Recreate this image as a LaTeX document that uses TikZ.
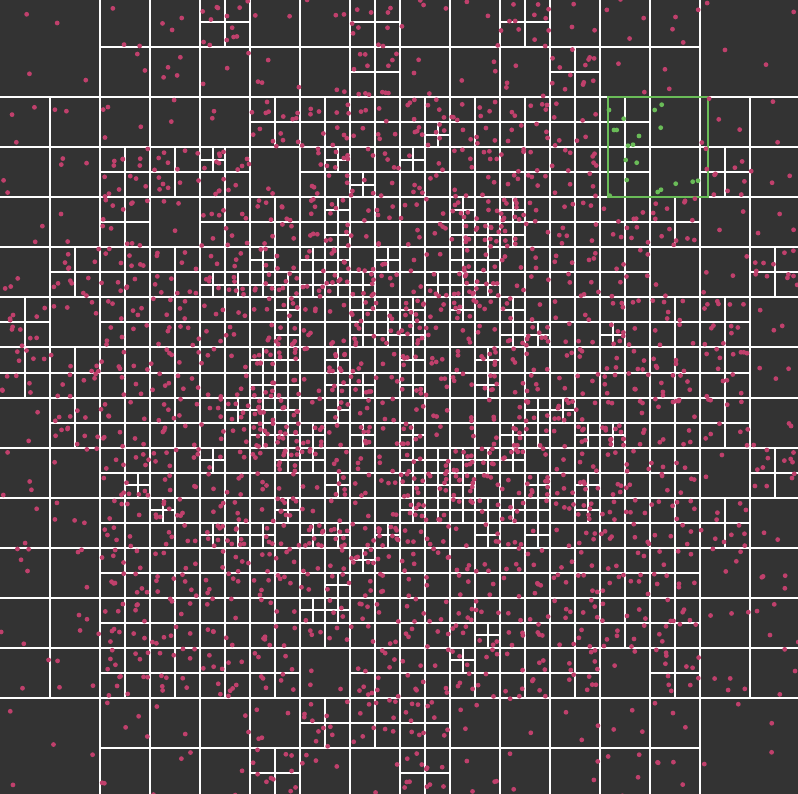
\documentclass[tikz,border=0pt]{standalone}
\definecolor{bg}{HTML}{333333}
\definecolor{pk}{RGB}{192,64,108}
\definecolor{gr}{RGB}{106,188,88}
\tikzset{gl/.style={draw=white,line width=2pt},
  ptd/.style={fill=pk},
  gpt/.style={fill=gr},
  qbox/.style={draw=gr,line width=2pt}}
\newif\ifptpass
\newcommand\qcross[3]{\draw[gl] ({#1+#3/2},{#2}) -- ++(0,#3) ({#1},{#2+#3/2}) -- ++(#3,0);}
\newcommand\qpts[5]{%
  \pgfmathrandominteger{\qn}{#4}{#5}%
  \ifnum\qn>0
    \foreach \k in {1,...,\qn}{\fill[ptd] ({#1+1+rnd*(#3-2)},{#2+1+rnd*(#3-2)}) circle (2.4pt);}%
  \fi}
\newcommand\dochild[3]{%
  \pgfmathsetmacro\dx{#1}\pgfmathsetmacro\dy{#2}%
  \if#31
    \ifptpass
      \qpts{\dx}{\dy}{12.5}{0}{3}\qpts{\dx+12.5}{\dy}{12.5}{0}{3}%
      \qpts{\dx}{\dy+12.5}{12.5}{0}{3}\qpts{\dx+12.5}{\dy+12.5}{12.5}{0}{3}%
    \else\qcross{\dx}{\dy}{25}\fi
  \else
    \ifptpass\qpts{\dx}{\dy}{25}{2}{4}\fi
  \fi}
\def\docell#1#2#3#4\relax#5#6{%
  \pgfmathsetmacro\cx{50*#5}\pgfmathsetmacro\cy{50*#6-2.5}%
  \if#1L
    \ifptpass\qpts{\cx}{\cy}{50}{1}{1}\fi
  \else\if#1-
    \ifptpass\qpts{\cx}{\cy}{50}{2}{4}\fi
  \else\if#1N
  \else\if#1n
    \ifptpass\else\qcross{\cx}{\cy}{50}\fi
  \else
    \ifptpass\else\qcross{\cx}{\cy}{50}\fi
    \dochild{\cx}{\cy}{#1}%
    \dochild{\cx+25}{\cy}{#2}%
    \dochild{\cx}{\cy+25}{#3}%
    \dochild{\cx+25}{\cy+25}{#4}%
  \fi\fi\fi\fi}
\newcommand\qrow[2]{%
  \foreach \code [count=\ci from 0] in {#2}{%
    \expandafter\docell\code\relax{\ci}{#1}}}
\newcommand\alltree{%
\qrow{0}{LLLL,LLLL,----,----,0000,----,----,0000,----,----,0000,----,----,----,LLLL,LLLL}%
\qrow{1}{LLLL,LLLL,----,----,----,----,----,0000,----,----,----,0000,----,----,LLLL,LLLL}%
\qrow{2}{----,----,----,----,----,0000,0000,0000,0001,0000,0000,0000,nnnn,NNNN,----,----}%
\qrow{3}{----,----,0000,0000,1000,----,0100,0010,1000,0000,0000,0000,nnnn,NNNN,0000,----}%
\qrow{4}{----,----,0000,----,0000,0000,0101,0000,0000,1011,1010,0000,0000,0000,----,----}%
\qrow{5}{----,0000,0000,0000,0011,1011,1111,0110,0001,1111,0000,0000,0000,----,----,0000}%
\qrow{6}{0000,----,0000,0000,0000,0101,0000,1111,1010,1000,1011,0000,0010,0000,0000,----}%
\qrow{7}{0000,0000,0000,0000,0000,1111,0101,0010,1010,0101,0000,0000,0000,0000,0000,----}%
\qrow{8}{----,0000,0000,0000,0100,1111,0110,0010,0010,0000,0111,1001,0010,0000,0000,----}%
\qrow{9}{----,----,0001,0000,1000,0100,1001,0000,1111,1110,1001,0001,0000,0000,----,0000}%
\qrow{10}{----,----,0000,1000,0011,0110,0011,0001,1100,1101,1101,0100,0000,0000,0000,----}%
\qrow{11}{----,----,0000,0000,0000,0000,0001,1000,0000,0000,0000,0000,0000,0000,----,----}%
\qrow{12}{----,----,0000,0000,0000,0000,1100,0000,0000,0001,0000,0000,0000,0000,----,----}%
\qrow{13}{----,----,0000,0000,0000,0000,----,0000,0000,1000,0000,0000,----,0000,----,----}%
\qrow{14}{LLLL,LLLL,----,----,----,----,0000,0000,0000,----,----,----,----,----,LLLL,LLLL}%
\qrow{15}{LLLL,LLLL,----,----,----,0000,----,----,0000,----,----,----,----,----,LLLL,LLLL}%
}
\begin{document}
\begin{tikzpicture}[x=1pt,y=-1pt]
\useasboundingbox (0,0) rectangle (798,794);
\clip (0,0) rectangle (798,794);
\fill[bg] (0,0) rectangle (798,794);
\pgfmathsetseed{20231}
% full-length lines (200-cell crosses)
\foreach \k in {1,...,7}{
  \draw[gl] (100*\k,-2.5) -- (100*\k,797.5);
  \draw[gl] (0,100*\k-2.5) -- (800,100*\k-2.5);
}
% 100-cell crosses (all but the four corners)
\foreach \C in {0,...,7}{
  \foreach \R in {0,...,7}{
    \pgfmathtruncatemacro\corner{(\C==0||\C==7)&&(\R==0||\R==7)}
    \ifnum\corner=0 \qcross{100*\C}{100*\R-2.5}{100}\fi
  }
}
% 50- and 25-cell crosses
\ptpassfalse
\alltree
% query rectangle
\draw[qbox] (607.5,97) rectangle (708,197);
% points
\ptpasstrue
\alltree
\foreach \p in {(609,110),(623.7,118.7),(614,130),(616.7,130),(654.7,110),(661.7,104.7),(660.7,127.7),(639,136),(628,145.7),(633,144.7),(625.7,160),(636.7,162.7),(626.7,180),(657.7,192),(661,189.7),(675.7,183.7),(692.7,181.7),(698,180.7),(609.7,195.7)}
  \fill[gpt] \p circle (2.4pt);
\end{tikzpicture}
\end{document}
